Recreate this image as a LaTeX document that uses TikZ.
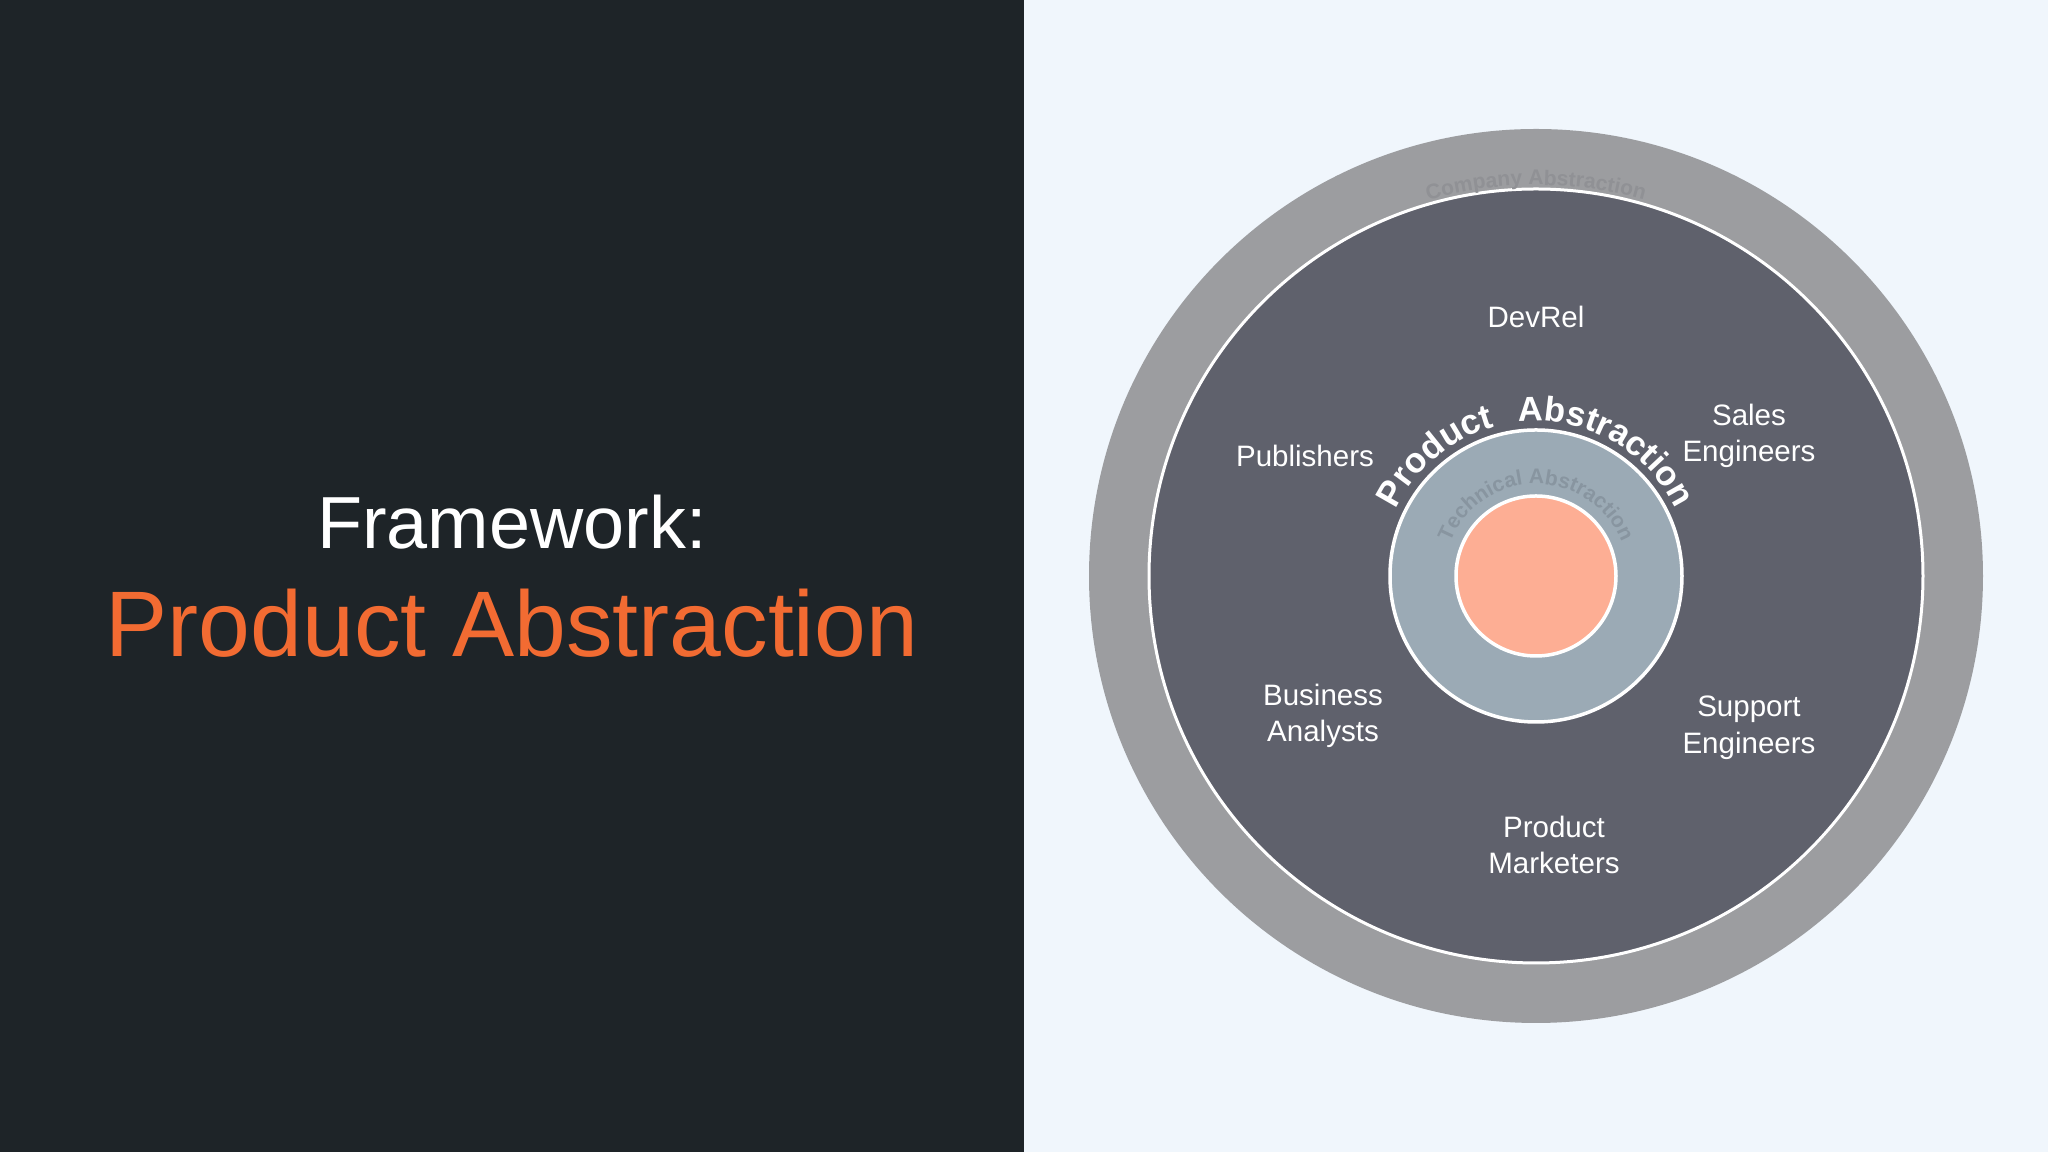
\documentclass[tikz,border=0pt]{standalone}
\usepackage{fontspec}
\setmainfont{Liberation Sans}
\usetikzlibrary{decorations.text}

\definecolor{panel}{HTML}{1E2428}
\definecolor{paper}{HTML}{F0F6FC}
\definecolor{ringgray}{HTML}{9C9DA0}
\definecolor{ringtext}{HTML}{909195}
\definecolor{slate}{HTML}{5F616C}
\definecolor{steel}{HTML}{9BAAB5}
\definecolor{steeltext}{HTML}{8895A0}
\definecolor{salmon}{HTML}{FDAE94}
\definecolor{accent}{HTML}{F26B32}

\begin{document}
\begin{tikzpicture}[%
        role/.style = {text = white, align = center,
            font = \fontsize{8.4}{10.4}\selectfont},
        heading/.style = {anchor = base, inner sep = 0pt}
    ]

        \useasboundingbox (0, 0) rectangle (20.48, 11.52);

        % centre of the rings.
        \coordinate (C) at (15.36, 5.76);

        % Background panels.
        \fill[panel] (0, 0) rectangle (10.24, 11.52);
        \fill[paper] (10.24, 0) rectangle (20.48, 11.52);

        % Title on the dark side.
        \node[heading, text = white, font = \fontsize{21}{25}\selectfont]
            (frame) at (5.12, 6.035) {Framework:};
        \node[heading, text = accent, font = \fontsize{26.5}{32}\selectfont]
            (title) at (5.12, 4.95) {Product Abstraction};

        % The rings, from the outside in.
        \fill[ringgray] (C) circle (4.47);
        \draw[white, line width = 0.3mm, fill = slate] (C) circle (3.87);
        \draw[white, line width = 0.35mm, fill = steel] (C) circle (1.46);
        \draw[white, line width = 0.35mm, fill = salmon] (C) circle (0.80);

        % Names of the rings, set along arcs.
        \path[decorate, decoration = {text along path, text align = center,
                text color = ringtext,
                text = {|\fontsize{6}{7}\selectfont\bfseries|Company Abstraction}}]
            ([shift = {(120:3.91)}]C) arc [start angle = 120, end angle = 60, radius = 3.91];
        \path[decorate, decoration = {text along path, text align = center,
                text color = white,
                text = {|\fontsize{10}{12}\selectfont\bfseries|Product}}]
            ([shift = {(175:1.55)}]C) arc [start angle = 175, end angle = 85, radius = 1.55];
        \path[decorate, decoration = {text along path, text align = center,
                text color = white,
                text = {|\fontsize{9.8}{12}\selectfont\bfseries|Abstraction}}]
            ([shift = {(111:1.55)}]C) arc [start angle = 111, end angle = 11, radius = 1.55];
        \path[decorate, decoration = {text along path, text align = center,
                text color = steeltext,
                text = {|\fontsize{6}{7}\selectfont\bfseries|Technical Abstraction}}]
            ([shift = {(175:0.92)}]C) arc [start angle = 175, end angle = 5, radius = 0.92];

        % Roles in the product ring.
        \node[role] (devrel) at (15.36, 8.35) {DevRel};
        \node[role] (publishers) at (13.05, 6.96) {Publishers};
        \node[role] (sales) at (17.49, 7.16) {Sales\\Engineers};
        \node[role] (analysts) at (13.23, 4.36) {Business\\Analysts};
        \node[role] (support) at (17.49, 4.24) {Support\\Engineers};
        \node[role] (marketers) at (15.54, 3.07) {Product\\Marketers};
    \end{tikzpicture}
\end{document}
